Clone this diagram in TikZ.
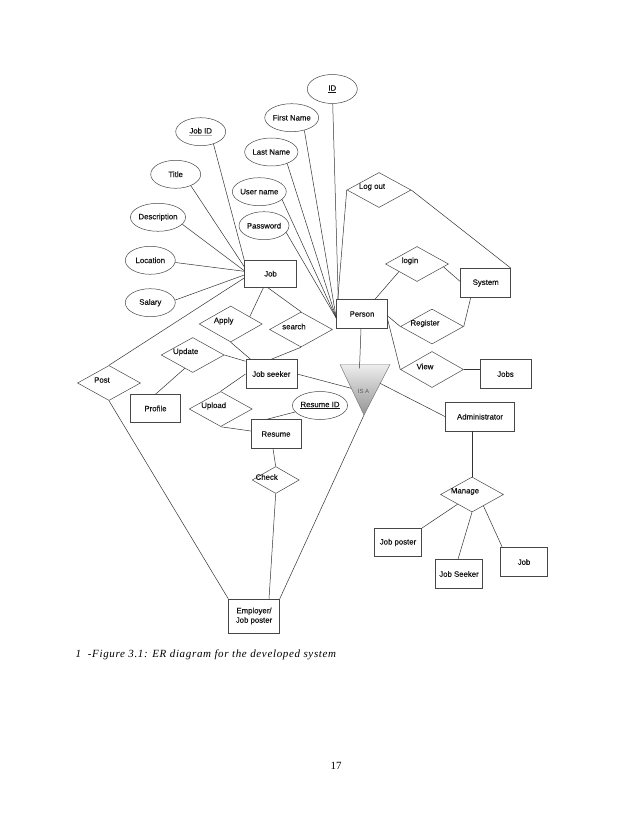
\documentclass[tikz,border=0pt]{standalone}
\usepackage{fontspec}
\setmainfont{Liberation Sans}
\newfontfamily\lblfont{Liberation Sans}[FakeBold=0.4]
\newfontfamily\serifcap{Liberation Serif}[LetterSpace=6]
\newfontfamily\serifnum{Liberation Serif}
\usetikzlibrary{shapes.geometric,calc}
\begin{document}
\begin{tikzpicture}[x=1pt,y=-1pt,
  every node/.style={font=\lblfont\fontsize{7.8}{9.4}\selectfont, text=black!92},
  conn/.style={draw=black!80, line width=0.5pt},
  attr/.style={ellipse, draw=black!72, line width=0.5pt, minimum width=50pt, minimum height=28pt, inner sep=0pt},
  ent/.style={rectangle, draw=black!72, line width=0.5pt, minimum width=51pt, minimum height=29pt, inner sep=0pt},
  rel/.style={diamond, draw=black!72, line width=0.5pt, minimum width=63pt, minimum height=35pt, inner sep=0pt, aspect=1.8},
  rlbl/.style={shift={(-7pt,3pt)}}
]
\fill[white] (0,0) rectangle (638,826);
\useasboundingbox (0,0) rectangle (638,826);

% ---------- attributes ----------
\node[attr] (jobid) at (200.7,131.7) {{\color{black!30}\underline{\color{black!92}Job ID}}};
\node[attr] (title) at (175.7,174.3) {Title};
\node[attr] (desc) at (158,217.3) {Description};
\node[attr] (location) at (150.3,260.3) {Location};
\node[attr] (salary) at (150.3,302.7) {Salary};
\node[attr, minimum height=29pt] (id) at (332.3,89) {\underline{ID}};
\node[attr] (firstname) at (291.7,117.7) {First Name};
\node[attr] (lastname) at (271.3,152) {Last Name};
\node[attr] (username) at (259.3,191.7) {User name};
\node[attr] (password) at (264,225.7) {Password};
\node[attr] (resumeid) at (320,405.5) {\underline{Resume ID}};

% ---------- entities ----------
\node[ent, minimum width=52pt, minimum height=27pt] (job) at (270.5,273.7) {Job};
\node[ent] (person) at (362,314) {Person};
\node[ent, minimum width=50pt] (system) at (485.7,283) {System};
\node[ent] (jobs) at (505.5,374) {Jobs};
\node[ent] (jobseeker) at (271.3,374) {Job seeker};
\node[ent, minimum width=50pt, minimum height=28pt] (profile) at (155.5,408.5) {Profile};
\node[ent, minimum width=50pt] (resume) at (276,434) {Resume};
\node[ent, minimum width=69pt] (admin) at (480,416.7) {Administrator};
\node[ent, minimum height=34pt, align=center] (employer) at (254,616) {Employer/\\Job poster};
\node[ent, minimum width=47pt, minimum height=28pt] (jobposter) at (398,542.5) {Job poster};
\node[ent, minimum width=47pt] (jobseekertwo) at (459,574) {Job Seeker};
\node[ent, minimum width=47pt] (jobtwo) at (524,562) {Job};

% ---------- relationships ----------
\node[rel, minimum width=64pt, label={[rlbl]center:Log out}] (logout) at (379,190) {};
\node[rel, label={[rlbl]center:login}] (login) at (417,264) {};
\node[rel, label={[rlbl]center:Register}] (register) at (432,326.5) {};
\node[rel, minimum height=36pt, label={[rlbl]center:View}] (view) at (432,369.5) {};
\node[rel, minimum height=36pt, label={[rlbl]center:Apply}] (apply) at (230.7,324) {};
\node[rel, label={[rlbl]center:search}] (search) at (301,329.5) {};
\node[rel, label={[rlbl]center:Update}] (update) at (192.7,355) {};
\node[rel, label={[rlbl]center:Post}] (post) at (109,383) {};
\node[rel, label={[rlbl]center:Upload}] (upload) at (220.7,409) {};
\node[rel, minimum width=47pt, minimum height=27pt, label={[shift={(-9pt,3pt)}]center:Check}] (check) at (275.7,480) {};
\node[rel, label={[rlbl]center:Manage}] (manage) at (472,494.5) {};

% ---------- IS A triangle ----------
\coordinate (isaTL) at (340,364.5);
\coordinate (isaTR) at (390,364.5);
\coordinate (isaB) at (364,415);
\shade[top color=black!7, bottom color=black!42] (isaTL) -- (isaTR) -- (isaB) -- cycle;
\draw[draw=black!55, line width=0.45pt] (isaTL) -- (isaTR) -- (isaB) -- cycle;
\node[font=\serifnum\sffamily\fontsize{6}{7}\selectfont, text=black!65] (isa) at (363.5,391) {\fontspec{Liberation Sans}IS A};
\coordinate (isaL) at (351.2,388.3);
\coordinate (isaR) at (380,383.3);
\coordinate (isaIn) at (359.5,368.3);

% ---------- connectors: Job ----------
\draw[conn] (jobid.-44) -- (job.north west);
\draw[conn] (title.-37) -- ([yshift=7pt]job.west);
\draw[conn] (desc.-16) -- ([yshift=3pt]job.west);
\draw[conn] (location.-5) -- ([yshift=2.4pt]job.west);
\draw[conn] (salary.6) -- ([yshift=-1.3pt]job.west);
\draw[conn] (post.north) -- ([yshift=-4.3pt]job.west);
\draw[conn] ([xshift=-7pt]job.south) -- ($(apply.north)!0.6!(apply.east)$);
\draw[conn] ([xshift=-3pt]job.south) -- (search.north);

% ---------- connectors: Job seeker ----------
\draw[conn] (apply.south) -- ([xshift=5pt]jobseeker.north west);
\draw[conn] (search.south) -- (jobseeker.north);
\draw[conn] (update.east) -- ([yshift=-2pt]jobseeker.north west);
\draw[conn] ($(update.south)!0.25!(update.west)$) -- (profile.north);
\draw[conn] (jobseeker.west) -- (upload.north);
\draw[conn] (upload.south) -- ([yshift=3pt]resume.west);
\draw[conn] ([xshift=-9pt]resume.north) -- (resumeid);
\draw[conn] ([xshift=-3pt]resume.south) -- (check.north);
\draw[conn] (check.south) -- ([xshift=15pt]employer.north);
\draw[conn] (post.south) -- (employer.north west);
\draw[conn] (isaB) -- (employer.north east);
\draw[conn] (jobseeker.east) -- (isaL);
\draw[conn] (isaR) -- (admin.west);
\draw[conn] ([xshift=-1pt]person.south) -- (isaIn);

% ---------- connectors: Person ----------
\draw[conn] (id) -- ([xshift=2pt]person.north west);
\draw[conn] (logout.west) -- ([xshift=1.5pt]person.north west);
\draw[conn] (firstname.-45) -- ([yshift=-4pt]person.west);
\draw[conn] (lastname.-36) -- ([yshift=-4pt]person.west);
\draw[conn] (username.-19) -- ([yshift=-4pt]person.west);
\draw[conn] (password.-17) -- ([yshift=-4pt]person.west);
\draw[conn] (logout.east) -- (system.north east);
\draw[conn] ([xshift=13pt]person.north) -- ($(login.south)!0.57!(login.west)$);
\draw[conn] ($(login.east)!0.165!(login.south)$) -- ([yshift=1.3pt]system.west);
\draw[conn] (register.east) -- ([xshift=-15pt]system.south);
\draw[conn] ([yshift=-2pt]person.east) -- (register.west);
\draw[conn] ([yshift=-6pt]person.east) -- (view.west);
\draw[conn, line width=1pt] (view.east) -- (view.east -| jobs.west);

% ---------- connectors: Administrator ----------
\draw[conn] ([xshift=-8pt]admin.south) -- (manage.north);
\draw[conn] ($(manage.south)!0.454!(manage.west)$) -- (jobposter.north east);
\draw[conn] (manage.south) -- ([xshift=-1pt]jobseekertwo.north);
\draw[conn] ($(manage.east)!0.64!(manage.south)$) -- ([xshift=2pt]jobtwo.north west);

% ---------- caption and page number ----------
\node[anchor=west, font=\serifcap\itshape\fontsize{11}{13}\selectfont, text=black] (caption) at (72,655) {1\ \ -Figure 3.1: ER diagram for the developed system};
\node[font=\serifnum\fontsize{11}{13}\selectfont, text=black] (pagenum) at (336,766) {17};
\end{tikzpicture}
\end{document}
